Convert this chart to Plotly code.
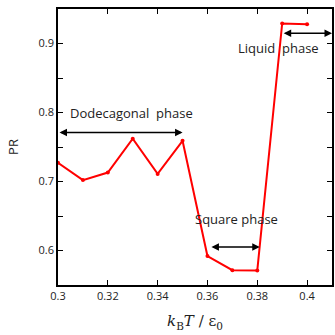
import plotly.graph_objects as go

temps = [0.30, 0.31, 0.32, 0.33, 0.34, 0.35, 0.36, 0.37, 0.38, 0.39, 0.40]
pr = [0.727, 0.702, 0.713, 0.762, 0.711, 0.759, 0.592, 0.5715, 0.571, 0.929, 0.928]

phase_labels = ["Dodecagonal  phase", "Square phase", "Liquid  phase"]
phase_start = [0.300, 0.361, 0.390]
phase_end = [0.350, 0.381, 0.410]
phase_arrow_y = [0.771, 0.605, 0.915]
phase_text_x = [0.3294, 0.3715, 0.3885]
phase_text_y = [0.7996, 0.645, 0.894]

x_ticks = [0.30, 0.32, 0.34, 0.36, 0.38, 0.40]
x_ticklabels = ["0.3", "0.32", "0.34", "0.36", "0.38", "0.4"]
y_ticks = [0.6, 0.7, 0.8, 0.9]
y_ticklabels = ["0.6", "0.7", "0.8", "0.9"]

fig = go.Figure()
fig.add_trace(go.Scatter(
    x=temps, y=pr, mode="lines+markers",
    line=dict(color="#ff0000", width=2),
    marker=dict(color="#ff0000", size=4),
    showlegend=False,
))

for lab, x0, x1, ya, tx, ty in zip(phase_labels, phase_start, phase_end, phase_arrow_y, phase_text_x, phase_text_y):
    fig.add_annotation(
        x=x1, y=ya, ax=x0, ay=ya, xref="x", yref="y", axref="x", ayref="y",
        text="", showarrow=True, arrowhead=2, startarrowhead=2, arrowside="end+start",
        arrowsize=1, arrowwidth=1.5, arrowcolor="black",
    )
    fig.add_annotation(
        x=tx, y=ty, xref="x", yref="y", text=lab, showarrow=False,
        font=dict(family="Open Sans, Liberation Sans, sans-serif", size=13, color="#222"),
    )

axis_common = dict(
    showline=True, linecolor="black", linewidth=1.5, mirror="ticks",
    ticks="inside", ticklen=5, tickcolor="black", showgrid=False, zeroline=False,
    tickfont=dict(family="Open Sans, Liberation Sans, sans-serif", size=11, color="#222"),
)

fig.update_xaxes(
    range=[0.3, 0.41], tickvals=x_ticks, ticktext=x_ticklabels,
    title=dict(text="<i>k</i><sub>B</sub><i>T</i> / ε<sub>0</sub>",
               font=dict(family="DejaVu Serif, Liberation Serif, serif", size=15, color="#222"),
               standoff=14),
    **axis_common,
)
fig.update_yaxes(
    range=[0.55, 0.95], tickvals=y_ticks, ticktext=y_ticklabels,
    minor=dict(dtick=0.05, tick0=0.55, ticks="inside", ticklen=5, tickcolor="black", showgrid=False),
    title=dict(text="PR", font=dict(family="Open Sans, Liberation Sans, sans-serif", size=13, color="#222"),
               standoff=17),
    **axis_common,
)

fig.update_layout(
    width=335, height=335,
    margin=dict(l=58, r=1, t=9, b=50),
    plot_bgcolor="white", paper_bgcolor="white",
)

fig.write_html("out.html", config={"displayModeBar": False},
               post_script="document.body.style.margin='0';")
